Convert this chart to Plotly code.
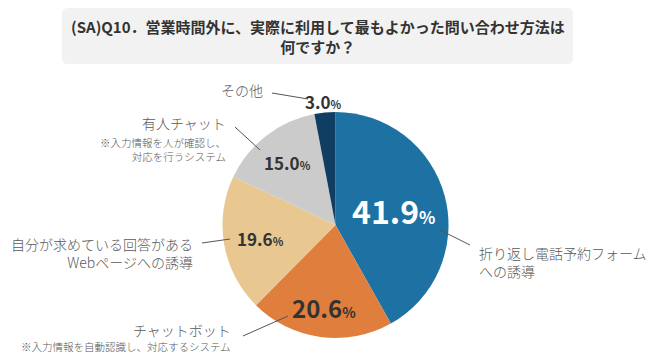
import math
import plotly.graph_objects as go

# ---- data ----
categories = ["折り返し電話予約フォーム<br>への誘導", "チャットボット",
              "自分が求めている回答がある<br>Webページへの誘導", "有人チャット", "その他"]
notes = ["", "※入力情報を自動認識し、対応するシステム", "",
         "※入力情報を人が確認し、<br>対応を行うシステム", ""]
values = [41.9, 20.6, 19.6, 15.0, 3.0]
title_text = "(SA)Q10．営業時間外に、実際に利用して最もよかった問い合わせ方法は<br>何ですか？"

# ---- style ----
# page body has an 8px margin: the figure covers window pixels 8..662 x 8..356
OFF = 8
W, H = 654, 348
colors = ["#1d72a3", "#e07f3d", "#e9c791", "#cbcbcb", "#103e62"]
CX, CY, R = 335.5, 225.0, 113.0          # in window pixels
label_r = [0.53, 0.74, 0.67, 0.70, 1.10]
pct_size = [32, 24, 17, 17, 17]
sign_size = [17, 14, 11, 11, 11]
pct_color = ["#ffffff", "#333333", "#333333", "#333333", "#333333"]
FONT = "Noto Sans CJK JP, Noto Sans, sans-serif"
LBL = "#595959"

# side label placements (window pixels): (x, y, xanchor)
cat_pos = [(477, 261.5, "left"), (233, 330, "right"), (195, 252.5, "right"),
           (228, 123, "right"), (265, 90, "right")]
note_pos = [None, (233, 346, "right"), None, (228, 149.5, "right"), None]
leaders = [((440, 230), (470, 245)), ((243, 336), (288, 316)),
           ((202, 243), (230, 239)), ((235, 127), (260, 150)),
           ((272, 93), (308, 99))]

fig = go.Figure()
fig.add_trace(go.Pie(
    labels=[c.replace("<br>", "") for c in categories], values=values,
    sort=False, direction="clockwise", rotation=0,
    marker=dict(colors=colors, line=dict(width=0)),
    textinfo="none", hoverinfo="label+value", showlegend=False,
    domain=dict(x=[(CX - R - OFF) / W, (CX + R - OFF) / W],
                y=[1 - (CY + R - OFF) / H, 1 - (CY - R - OFF) / H]),
))

# invisible axes in window-pixel units for overlays
fig.update_layout(
    xaxis=dict(range=[OFF, OFF + W], visible=False, domain=[0, 1], fixedrange=True),
    yaxis=dict(range=[OFF + H, OFF], visible=False, domain=[0, 1], fixedrange=True),
)

shapes = []
x0, x1, y0, y1, rr = 62, 573, 8, 64, 6
path = (f"M {x0+rr},{y0} L {x1-rr},{y0} Q {x1},{y0} {x1},{y0+rr} "
        f"L {x1},{y1-rr} Q {x1},{y1} {x1-rr},{y1} L {x0+rr},{y1} "
        f"Q {x0},{y1} {x0},{y1-rr} L {x0},{y0+rr} Q {x0},{y0} {x0+rr},{y0} Z")
shapes.append(dict(type="path", path=path, xref="x", yref="y",
                   fillcolor="#f2f2f2", line=dict(width=0), layer="below"))
for (a, b) in leaders:
    shapes.append(dict(type="line", xref="x", yref="y", x0=a[0], y0=a[1],
                       x1=b[0], y1=b[1], line=dict(color="#555555", width=1)))

ann = []
ann.append(dict(x=317.5, y=36, xref="x", yref="y", text="<b>" + title_text + "</b>",
                showarrow=False, font=dict(family=FONT, size=15, color="#333333"),
                align="center", xanchor="center", yanchor="middle"))

total = sum(values)
cum = 0.0
for i, v in enumerate(values):
    mid = (cum + v / 2) / total * 2 * math.pi
    cum += v
    px = CX + label_r[i] * R * math.sin(mid)
    py = CY - label_r[i] * R * math.cos(mid)
    txt = (f"<b>{v:.1f}</b><span style='font-size:{sign_size[i]}px'><b>%</b></span>")
    ann.append(dict(x=px, y=py, xref="x", yref="y", text=txt, showarrow=False,
                    font=dict(family=FONT, size=pct_size[i], color=pct_color[i]),
                    xanchor="center", yanchor="middle"))

for i, c in enumerate(categories):
    x, y, xa = cat_pos[i]
    ann.append(dict(x=x, y=y, xref="x", yref="y", text=c, showarrow=False,
                    font=dict(family=FONT, size=14, color=LBL, weight=300),
                    align=xa, xanchor=xa, yanchor="middle"))
    if note_pos[i]:
        x, y, xa = note_pos[i]
        ann.append(dict(x=x, y=y, xref="x", yref="y", text=notes[i], showarrow=False,
                        font=dict(family=FONT, size=10.5, color=LBL, weight=300),
                        align=xa, xanchor=xa, yanchor="middle"))

fig.update_layout(
    width=W, height=H, margin=dict(l=0, r=0, t=0, b=0),
    paper_bgcolor="white", plot_bgcolor="white",
    shapes=shapes, annotations=ann,
)
fig.write_html("out.html")
